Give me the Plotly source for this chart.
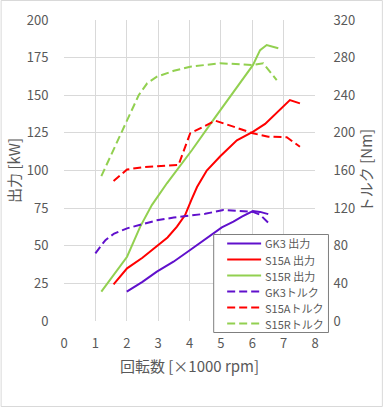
import plotly.graph_objects as go

# GK3
gk3_p_x = [2.0, 2.5, 2.96, 3.49, 4.02, 4.55, 5.03, 5.4, 5.67, 6.02, 6.25, 6.51]
gk3_p_y = [19.5, 26, 32.8, 39.4, 47.2, 55, 62.2, 66, 69.3, 73, 72.5, 71]
gk3_t_x = [1.0, 1.32, 1.6, 2.01, 2.5, 2.96, 3.5, 4.02, 4.5, 5.08, 5.5, 6.02, 6.25, 6.51]
gk3_t_y = [72, 86, 93, 98.5, 103, 107, 110, 112, 114, 118, 117, 116, 113, 104.5]
# S15A
s15a_p_x = [1.58, 2.01, 2.5, 2.96, 3.3, 3.6, 3.86, 4.05, 4.24, 4.55, 4.98, 5.51, 6.03, 6.41, 6.8, 7.2, 7.52]
s15a_p_y = [24.4, 35, 42, 49.4, 55.5, 62.7, 70.4, 80, 89, 100, 109.5, 120, 125.8, 131, 138.5, 146.8, 144.6]
s15a_t_x = [1.58, 2.01, 2.5, 2.96, 3.3, 3.65, 4.02, 4.45, 4.82, 5.4, 6.02, 6.51, 7.1, 7.52]
s15a_t_y = [148.8, 161, 163.5, 164.8, 165.3, 165.8, 199.5, 206.6, 213, 206.6, 199.5, 196, 195.3, 185.3]
# S15R
s15r_p_x = [1.19, 1.58, 2.01, 2.43, 2.8, 3.28, 4.08, 4.76, 5.4, 6.02, 6.25, 6.46, 6.83]
s15r_p_y = [19.5, 30.6, 42.7, 62.7, 77, 91.5, 113.6, 133.6, 152, 170, 180, 183.4, 181.2]
s15r_t_x = [1.19, 1.58, 2.01, 2.38, 2.65, 2.96, 3.5, 4.02, 4.98, 6.02, 6.35, 6.78]
s15r_t_y = [154, 181.8, 212, 240, 252.7, 259.7, 266, 270.4, 274, 272.2, 274, 256]

PURPLE = "#6010CC"
RED = "#FF0000"
GREEN = "#92D050"
DASH = "8px,4px"

W, H = 383, 407
L, R, T, B = 63.5, 68, 20, 86
PW, PH = W - L - R, H - T - B


def px2paper_x(px):
    return (px - L) / PW


def px2paper_y(py):
    return (H - B - py) / PH


fig = go.Figure()
series = [
    ("GK3 出力", gk3_p_x, gk3_p_y, PURPLE, "solid", "y"),
    ("S15A 出力", s15a_p_x, s15a_p_y, RED, "solid", "y"),
    ("S15R 出力", s15r_p_x, s15r_p_y, GREEN, "solid", "y"),
    ("GK3トルク", gk3_t_x, gk3_t_y, PURPLE, DASH, "y2"),
    ("S15Aトルク", s15a_t_x, s15a_t_y, RED, DASH, "y2"),
    ("S15Rトルク", s15r_t_x, s15r_t_y, GREEN, DASH, "y2"),
]
for name, xs, ys, c, d, ax in series:
    fig.add_trace(go.Scatter(x=xs, y=ys, name=name, mode="lines", yaxis=ax,
                             line=dict(color=c, width=2, dash=d), showlegend=False))

tickfont = dict(family="Noto Sans CJK JP", size=13, color="#595959")
titlefont = dict(family="Noto Sans CJK JP", size=15, color="#595959")

# custom compact legend (Excel-like)
shapes = [dict(type="rect", xref="paper", yref="paper",
               x0=px2paper_x(0.5), x1=px2paper_x(W - 0.5),
               y0=px2paper_y(H - 0.5), y1=px2paper_y(0.5),
               line=dict(color="#d9d9d9", width=1), fillcolor="rgba(0,0,0,0)", layer="below"),
          dict(type="rect", xref="paper", yref="paper",
               x0=px2paper_x(213.5), x1=px2paper_x(328.5),
               y0=px2paper_y(332.5), y1=px2paper_y(234.5),
               line=dict(color="#7f7f7f", width=1), fillcolor="white", layer="above")]
annotations = []
row0, step = 243.5, 16
for i, (name, xs, ys, c, d, ax) in enumerate(series):
    yc = row0 + i * step
    shapes.append(dict(type="line", xref="paper", yref="paper",
                       x0=px2paper_x(227), x1=px2paper_x(261),
                       y0=px2paper_y(yc), y1=px2paper_y(yc),
                       line=dict(color=c, width=2, dash=d), layer="above"))
    annotations.append(dict(xref="paper", yref="paper", x=px2paper_x(263), y=px2paper_y(yc),
                            text=name, showarrow=False, xanchor="left", yanchor="middle",
                            font=dict(family="Noto Sans CJK JP", size=11, color="#595959")))

fig.update_layout(
    width=W, height=H,
    margin=dict(l=L, r=R, t=T, b=B, autoexpand=False),
    paper_bgcolor="white", plot_bgcolor="white",
    font=dict(family="Noto Sans CJK JP", color="#595959"),
    xaxis=dict(range=[0, 8], dtick=1, showgrid=True, gridcolor="#d9d9d9", gridwidth=1,
               zeroline=False, showline=False, tickfont=tickfont, automargin=False,
               ticks="outside", ticklen=10, tickcolor="rgba(0,0,0,0)",
               title=dict(text="回転数 [×1000 rpm]", font=titlefont, standoff=10)),
    yaxis=dict(range=[0, 200], dtick=25, showgrid=True, gridcolor="#d9d9d9", gridwidth=1,
               zeroline=False, showline=False, tickfont=tickfont, automargin=False,
               ticks="outside", ticklen=12, tickcolor="rgba(0,0,0,0)",
               title=dict(text="出力 [kW]", font=titlefont, standoff=2)),
    yaxis2=dict(range=[0, 320], dtick=40, overlaying="y", side="right", showgrid=False,
                zeroline=False, showline=False, tickfont=tickfont, automargin=False,
                ticks="outside", ticklen=15, tickcolor="rgba(0,0,0,0)",
                title=dict(text="トルク [Nm]", font=titlefont, standoff=4)),
    showlegend=False,
    shapes=shapes,
    annotations=annotations,
)

fig.write_html("out.html", config={"displayModeBar": False},
               post_script="document.body.style.margin='0';")
